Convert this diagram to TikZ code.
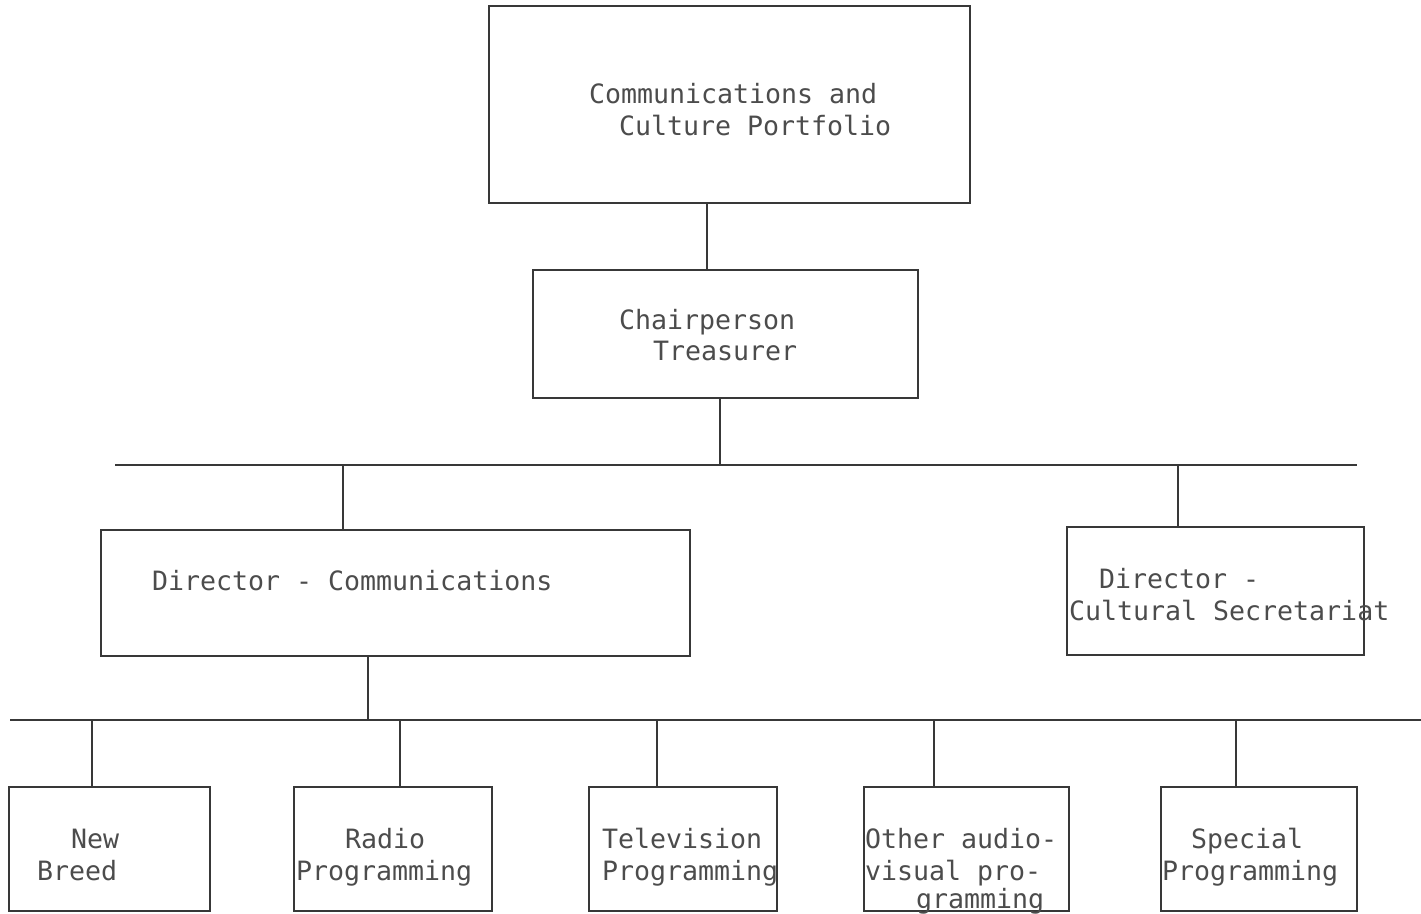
\documentclass[tikz,border=0pt]{standalone}
\usepackage{fontspec}
\newfontfamily\typewriter{DejaVu Sans Mono}
\definecolor{ink}{gray}{0.22}
\definecolor{type}{gray}{0.30}
\tikzset{
  orgbox/.style={draw=ink, line width=1.6pt, rectangle, inner sep=0pt, outer sep=0pt},
  link/.style={draw=ink, line width=1.3pt},
  bus/.style={draw=ink, line width=1.1pt},
  txt/.style={anchor=base west, inner sep=0pt, outer sep=0pt, text=type,
              font=\typewriter\fontsize{26.6}{31}\selectfont},
}
\begin{document}
\begin{tikzpicture}[x=1pt, y=-1pt]
\useasboundingbox (0,0) rectangle (1421,913);

% boxes
\node[orgbox, minimum width=481pt, minimum height=197pt] (port) at (729.5,104.5) {};
\node[orgbox, minimum width=385pt, minimum height=128pt] (chair) at (725.5,334) {};
\node[orgbox, minimum width=589pt, minimum height=126pt] (dcom) at (395.5,593) {};
\node[orgbox, minimum width=297pt, minimum height=128pt] (dcul) at (1215.5,591) {};
\node[orgbox, minimum width=201pt, minimum height=124pt] (nb) at (109.5,849) {};
\node[orgbox, minimum width=198pt, minimum height=124pt] (radio) at (393,849) {};
\node[orgbox, minimum width=188pt, minimum height=124pt] (tv) at (683,849) {};
\node[orgbox, minimum width=205pt, minimum height=124pt] (av) at (966.5,849) {};
\node[orgbox, minimum width=196pt, minimum height=124pt] (sp) at (1259,849) {};

% labels
\node[txt] (port1) at (589,103) {Communications and};
\node[txt] (port2) at (619,135) {Culture Portfolio};
\node[txt] (chair1) at (619,329) {Chairperson};
\node[txt] (chair2) at (653,360) {Treasurer};
\node[txt] (dcom1) at (152,590) {Director - Communications};
\node[txt] (dcul1) at (1099,588) {Director -};
\node[txt] (dcul2) at (1069,620) {Cultural Secretariat};
\node[txt] (nb1) at (71,848) {New};
\node[txt] (nb2) at (37,880) {Breed};
\node[txt] (radio1) at (345,848) {Radio};
\node[txt] (radio2) at (296,880) {Programming};
\node[txt] (tv1) at (602,848) {Television};
\node[txt] (tv2) at (602,880) {Programming};
\node[txt] (av1) at (865,848) {Other audio-};
\node[txt] (av2) at (865,880) {visual pro-};
\node[txt] (av3) at (916,908) {gramming};
\node[txt] (sp1) at (1191,848) {Special};
\node[txt] (sp2) at (1162,880) {Programming};

% connector points
\coordinate (j1) at (707,203);
\coordinate (j2) at (720,398);
\coordinate (bus1w) at (115,465);
\coordinate (bus1e) at (1357,465);
\coordinate (k3) at (343,530);
\coordinate (k4) at (1178,527);
\coordinate (j3) at (368,656);
\coordinate (bus2w) at (10,720);
\coordinate (bus2e) at (1421,720);
\coordinate (k5) at (92,787);
\coordinate (k6) at (400,787);
\coordinate (k7) at (657,787);
\coordinate (k8) at (934,787);
\coordinate (k9) at (1236,787);

% connectors
\draw[link] (j1) -- (j1 |- chair.north);
\draw[link] (j2) -- (j2 |- bus1w);
\draw[bus] (bus1w) -- (bus1e);
\draw[link] (k3 |- bus1w) -- (k3);
\draw[link] (k4 |- bus1w) -- (k4);
\draw[link] (j3) -- (j3 |- bus2w);
\draw[bus] (bus2w) -- (bus2e);
\foreach \k in {k5,k6,k7,k8,k9}
  \draw[link] (\k |- bus2w) -- (\k);
\end{tikzpicture}
\end{document}
